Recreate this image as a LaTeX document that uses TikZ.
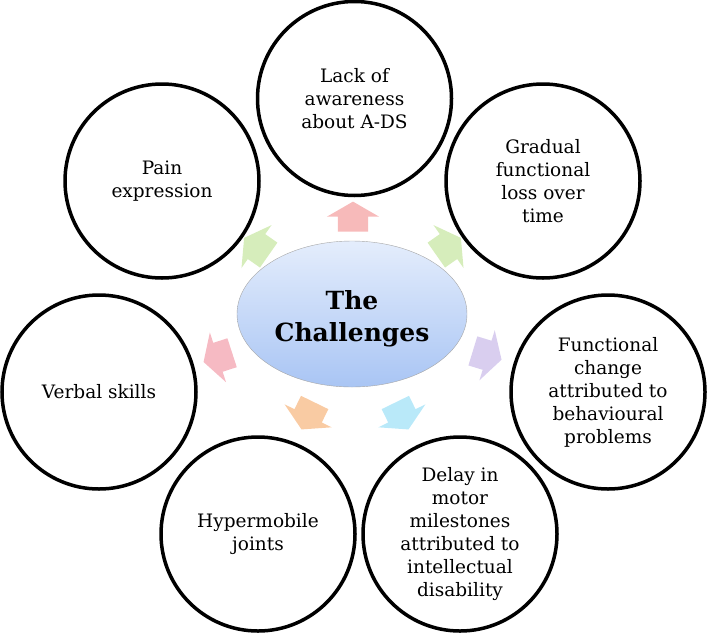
\documentclass[tikz,border=0pt]{standalone}
\usepackage{fontspec}
\setmainfont{DejaVu Serif}
\usetikzlibrary{shapes.arrows, shapes.geometric}
\definecolor{hubtop}{HTML}{E4EDFC}
\definecolor{hubbot}{HTML}{A9C5F4}
\definecolor{arrpink}{HTML}{F7BABA}
\definecolor{arrgreen}{HTML}{D6EDBB}
\definecolor{arrlilac}{HTML}{D9CEEF}
\definecolor{arrcyan}{HTML}{B9E9F9}
\definecolor{arrpeach}{HTML}{F9CBA3}
\definecolor{arrrose}{HTML}{F6BAC3}
\tikzset{
  topic/.style={draw, circle, line width=3.5pt, minimum size=194pt, align=center,
    font=\fontsize{18.5}{23}\selectfont},
  hub/.style={draw=gray!70, ellipse, minimum width=230pt, minimum height=146pt,
    top color=hubtop, bottom color=hubbot},
  hubtext/.style={align=center, font=\bfseries\fontsize{25}{32}\selectfont},
  blk/.style={single arrow, draw=none, fill=#1, minimum height=30pt,
    inner xsep=0pt, inner ysep=15pt, single arrow head extend=11pt,
    single arrow tip angle=120},
}

\begin{document}
\begin{tikzpicture}[x=1pt, y=-1pt]
  \useasboundingbox (0,0) rectangle (708,632);

  % centre
  \node[hub] (hub) at (352,314) {};
  \node[hubtext] (title) at ([yshift=-5pt]hub.center) {The\\Challenges};

  % the seven challenges
  \node[topic] (aware) at (354.5,98.5) {Lack of\\awareness\\about A-DS};
  \node[topic] (loss) at (543,181) {Gradual\\functional\\loss over\\time};
  \node[topic] (behav) at (608,392) {Functional\\change\\attributed to\\behavioural\\problems};
  \node[topic] (motor) at (460,534) {Delay in\\motor\\milestones\\attributed to\\intellectual\\disability};
  \node[topic] (joints) at (258,534) {Hypermobile\\joints};
  \node[topic] (verbal) at (99,392) {Verbal skills};
  \node[topic] (pain) at (162,181) {Pain\\expression};

  % block arrows
  \node[blk=arrpink, rotate=90] (toaware) at (353,221) {};
  \node[blk=arrgreen, rotate=35] (toloss) at (445,249) {};
  \node[blk=arrlilac, rotate=-17] (tobehav) at (483,354) {};
  \node[blk=arrcyan, rotate=-64] (tomotor) at (400,412) {};
  \node[blk=arrpeach, rotate=-116] (tojoints) at (310,412) {};
  \node[blk=arrrose, rotate=198] (toverbal) at (222,356) {};
  \node[blk=arrgreen, rotate=145] (topain) at (260,249) {};
\end{tikzpicture}
\end{document}
